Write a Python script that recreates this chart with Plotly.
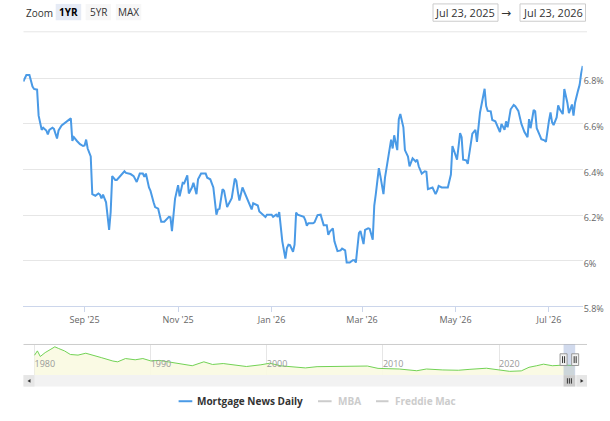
import plotly.graph_objects as go
import pandas as pd

# ---------------- data ----------------
START = "2025-07-23"
END = "2026-07-23"

# Mortgage News Daily 30yr fixed (day offset from START, rate %)
mnd_day = [0, 2, 4, 6, 7, 9, 10, 12, 13, 15, 16, 17, 19, 20, 22, 23, 25, 27, 29, 31,
           32, 33, 35, 37, 39, 40, 41, 42, 44, 45, 47, 49, 50, 51, 52, 54, 56, 57, 58, 60,
           61, 63, 64, 66, 67, 70, 72, 74, 76, 78, 79, 80, 82, 83, 85, 86, 88, 90, 92, 95,
           96, 97, 99, 101, 102, 104, 105, 107, 108, 110, 111, 113, 114, 116, 119, 120, 122, 124, 126, 127,
           128, 130, 131, 133, 134, 136, 138, 139, 140, 141, 143, 145, 146, 149, 150, 152, 153, 154, 156, 158,
           159, 162, 163, 165, 166, 167, 169, 170, 171, 172, 173, 174, 176, 177, 178, 179, 181, 183, 184, 185,
           186, 189, 190, 192, 194, 195, 196, 198, 199, 200, 202, 203, 205, 207, 208, 210, 211, 213, 215, 216,
           217, 219, 220, 222, 223, 225, 226, 228, 229, 230, 232, 233, 235, 236, 238, 240, 241, 242, 244, 245,
           246, 248, 249, 251, 252, 254, 256, 257, 258, 260, 262, 263, 264, 266, 267, 269, 270, 271, 273, 277,
           279, 280, 282, 283, 285, 286, 287, 289, 290, 291, 293, 295, 296, 298, 299, 301, 302, 303, 305, 306,
           308, 309, 311, 312, 314, 315, 316, 318, 320, 321, 323, 325, 326, 327, 329, 330, 331, 333, 334, 335,
           337, 338, 340, 341, 343, 344, 345, 346, 348, 349, 350, 352, 353, 355, 356, 358, 359, 360, 362, 363,
           364, 365]
mnd_rate = [6.786, 6.814, 6.814, 6.764, 6.753, 6.750, 6.636, 6.574, 6.583, 6.571, 6.554, 6.574, 6.583, 6.578, 6.536, 6.571, 6.593, 6.604, 6.617, 6.624,
            6.525, 6.542, 6.525, 6.511, 6.503, 6.505, 6.531, 6.492, 6.457, 6.292, 6.285, 6.295, 6.290, 6.273, 6.290, 6.256, 6.135, 6.213, 6.371, 6.354,
            6.354, 6.371, 6.375, 6.392, 6.385, 6.380, 6.371, 6.345, 6.382, 6.382, 6.368, 6.382, 6.321, 6.306, 6.256, 6.235, 6.228, 6.171, 6.171, 6.192,
            6.190, 6.130, 6.271, 6.331, 6.282, 6.342, 6.340, 6.374, 6.295, 6.321, 6.342, 6.292, 6.357, 6.382, 6.382, 6.364, 6.357, 6.321, 6.202, 6.225,
            6.228, 6.314, 6.307, 6.235, 6.249, 6.274, 6.360, 6.350, 6.302, 6.264, 6.321, 6.288, 6.273, 6.225, 6.252, 6.244, 6.242, 6.216, 6.202, 6.192,
            6.202, 6.202, 6.192, 6.202, 6.192, 6.213, 6.085, 6.042, 6.009, 6.056, 6.070, 6.068, 6.039, 6.070, 6.211, 6.202, 6.196, 6.192, 6.178, 6.153,
            6.164, 6.164, 6.168, 6.200, 6.202, 6.178, 6.156, 6.156, 6.113, 6.128, 6.142, 6.085, 6.042, 6.045, 6.053, 6.045, 5.992, 5.992, 6.002, 6.002,
            5.992, 6.121, 6.130, 6.073, 6.135, 6.142, 6.140, 6.092, 6.242, 6.292, 6.406, 6.371, 6.292, 6.364, 6.457, 6.531, 6.492, 6.550, 6.485, 6.621,
            6.643, 6.585, 6.485, 6.457, 6.414, 6.449, 6.435, 6.443, 6.414, 6.382, 6.392, 6.390, 6.314, 6.321, 6.321, 6.292, 6.306, 6.328, 6.321, 6.321,
            6.378, 6.503, 6.457, 6.443, 6.560, 6.542, 6.443, 6.440, 6.425, 6.471, 6.557, 6.574, 6.521, 6.650, 6.685, 6.754, 6.678, 6.657, 6.655, 6.617,
            6.611, 6.593, 6.564, 6.600, 6.574, 6.611, 6.585, 6.664, 6.683, 6.678, 6.657, 6.600, 6.585, 6.564, 6.542, 6.621, 6.581, 6.661, 6.655, 6.581,
            6.550, 6.533, 6.528, 6.521, 6.614, 6.650, 6.607, 6.595, 6.628, 6.681, 6.664, 6.643, 6.753, 6.693, 6.647, 6.685, 6.636, 6.693, 6.747, 6.771,
            6.821, 6.854]

# Navigator history (month, rate %)
nav_month = ["1980-01", "1980-04", "1980-07", "1980-12", "1981-06", "1981-10", "1982-02", "1982-08",
             "1983-02", "1983-10", "1984-06", "1985-02", "1985-10", "1986-10", "1987-03", "1987-11",
             "1988-09", "1989-05", "1990-01", "1990-10", "1991-12", "1992-12", "1993-08", "1994-08",
             "1995-05", "1996-04", "1997-04", "1998-04", "1999-07", "2000-04", "2001-04", "2002-05",
             "2003-05", "2004-05", "2005-09", "2006-09", "2007-09", "2008-09", "2009-08", "2010-10",
             "2011-06", "2012-12", "2013-10", "2015-03", "2016-07", "2017-07", "2018-12", "2019-12",
             "2020-12", "2021-12", "2022-08", "2023-04", "2023-11", "2024-08", "2025-08", "2026-07"]
nav_rate = [13.1, 15.9, 12.3, 14.8, 17.0, 18.5, 17.4, 15.9,
            13.6, 13.2, 14.4, 13.2, 11.6, 9.4, 8.9, 11.0,
            10.2, 11.0, 9.5, 9.8, 8.4, 7.2, 6.4, 8.9,
            7.2, 7.8, 7.0, 5.9, 7.0, 8.0, 6.3, 5.8,
            5.0, 5.8, 5.9, 6.3, 5.9, 6.2, 4.7, 4.6,
            4.3, 3.2, 4.3, 3.7, 3.5, 4.1, 4.8, 3.8,
            2.8, 3.1, 5.4, 6.4, 7.4, 6.4, 6.8, 6.5]

legend_names = ["Mortgage News Daily", "MBA", "Freddie Mac"]
range_buttons = ["1YR", "5YR", "MAX"]
date_inputs = ["Jul 23, 2025", "Jul 23, 2026"]

# ---------------- styling ----------------
W, H = 610, 421
FONT = "Open Sans, Arial, sans-serif"
BLUE = "#4a9ae6"
GREEN = "#72d255"
AX = "#ccd6eb"
GRID = "#e6e6e6"


def px(x):
    return x / W


def py(y):
    return 1 - y / H


dates = pd.Timestamp(START) + pd.to_timedelta(mnd_day, unit="D")
nav_dates = pd.to_datetime(nav_month)

fig = go.Figure()
fig.add_trace(go.Scatter(x=dates, y=mnd_rate, mode="lines", name=legend_names[0],
                         line=dict(color=BLUE, width=2), xaxis="x", yaxis="y",
                         showlegend=False))
fig.add_trace(go.Scatter(x=nav_dates, y=nav_rate, mode="lines", name="navigator",
                         line=dict(color=GREEN, width=1), fill="tozeroy",
                         fillcolor="rgba(250,250,225,0.9)", xaxis="x2", yaxis="y2",
                         showlegend=False, hoverinfo="skip"))

shapes = []
annotations = []

# range selector
shapes.append(dict(type="line", xref="paper", yref="paper", x0=px(23.5), x1=px(587),
                   y0=py(32.5), y1=py(32.5), line=dict(color=GRID, width=1)))
annotations.append(dict(text="Zoom", x=px(24), y=py(13), xref="paper", yref="paper",
                        xanchor="left", yanchor="middle", showarrow=False,
                        font=dict(family=FONT, size=10, color="#333")))
btn_x = [(55.7, 81.2), (85.6, 111.0), (115.8, 141.3)]
for i, (lab, (a, b)) in enumerate(zip(range_buttons, btn_x)):
    shapes.append(dict(type="rect", xref="paper", yref="paper", x0=px(a), x1=px(b),
                       y0=py(20.7), y1=py(4), line=dict(width=0),
                       fillcolor="#e6ebf5" if i == 0 else "#f7f7f7", layer="below"))
    annotations.append(dict(text=f"<b>{lab}</b>" if i == 0 else lab, x=px((a + b) / 2), y=py(12.5),
                            xref="paper", yref="paper", xanchor="center", yanchor="middle",
                            showarrow=False, font=dict(family=FONT, size=10,
                                                       color="#000" if i == 0 else "#333")))
box_x = [(433, 498), (520, 585.5)]
for lab, (a, b) in zip(date_inputs, box_x):
    shapes.append(dict(type="rect", xref="paper", yref="paper", x0=px(a), x1=px(b),
                       y0=py(21.7), y1=py(4), line=dict(color="#cccccc", width=1),
                       fillcolor="white"))
    annotations.append(dict(text=lab, x=px((a + b) / 2), y=py(13), xref="paper", yref="paper",
                            xanchor="center", yanchor="middle", showarrow=False,
                            font=dict(family=FONT, size=11, color="#333")))
annotations.append(dict(text="→", x=px(506), y=py(13), xref="paper", yref="paper",
                        xanchor="center", yanchor="middle", showarrow=False,
                        font=dict(family="DejaVu Sans", size=12, color="#333")))

# navigator
NAV_TOP, NAV_BOT = 352, 383.3
shapes.append(dict(type="line", xref="paper", yref="paper", x0=px(23.5), x1=px(587),
                   y0=py(NAV_TOP), y1=py(NAV_TOP), line=dict(color="#cccccc", width=1)))
shapes.append(dict(type="rect", xref="x2", yref="paper", x0=START, x1=END,
                   y0=py(NAV_BOT), y1=py(NAV_TOP), line=dict(width=0),
                   fillcolor="rgba(102,133,194,0.3)"))
for anchor in (START, END):
    shapes.append(dict(type="rect", xref="x2", yref="paper", xsizemode="pixel", xanchor=anchor,
                       x0=-3.5, x1=3.5, y0=py(373.5), y1=py(361.5),
                       line=dict(color="#999999", width=1), fillcolor="#f2f2f2"))
    for off in (-1, 1):
        shapes.append(dict(type="line", xref="x2", yref="paper", xsizemode="pixel", xanchor=anchor,
                           x0=off, x1=off, y0=py(371), y1=py(364),
                           line=dict(color="#333333", width=1)))

# scrollbar
SB_TOP, SB_BOT = 383.3, 395
shapes.append(dict(type="rect", xref="paper", yref="paper", x0=px(23.5), x1=px(587),
                   y0=py(SB_BOT), y1=py(SB_TOP), line=dict(width=0), fillcolor="#f2f2f2"))
for a, b in ((23.5, 34.5), (576.5, 587)):
    shapes.append(dict(type="rect", xref="paper", yref="paper", x0=px(a), x1=px(b),
                       y0=py(SB_BOT), y1=py(SB_TOP), line=dict(width=0), fillcolor="#e6e6e6"))
shapes.append(dict(type="path", xref="paper", yref="paper",
                   path=f"M {px(27.5)} {py(389.2)} L {px(30.5)} {py(387.2)} L {px(30.5)} {py(391.2)} Z",
                   fillcolor="#333", line=dict(width=0)))
shapes.append(dict(type="path", xref="paper", yref="paper",
                   path=f"M {px(583.5)} {py(389.2)} L {px(580.5)} {py(387.2)} L {px(580.5)} {py(391.2)} Z",
                   fillcolor="#333", line=dict(width=0)))
shapes.append(dict(type="rect", xref="x2", yref="paper", x0=START, x1=END,
                   y0=py(SB_BOT), y1=py(SB_TOP), line=dict(width=0), fillcolor="#cccccc"))
for off in (-2, 0, 2):
    shapes.append(dict(type="line", xref="x2", yref="paper", xsizemode="pixel",
                       xanchor="2026-01-22", x0=off, x1=off, y0=py(392), y1=py(386.5),
                       line=dict(color="#333333", width=1)))

# legend (manual, Highstock style)
leg = [(178.6, 192.3, 195, legend_names[0], BLUE, "#333333"),
       (318.0, 331.6, 335.6, legend_names[1], "#cccccc", "#cccccc"),
       (376.0, 388.5, 392.5, legend_names[2], "#cccccc", "#cccccc")]
for a, b, tx, name, lc, tc in leg:
    shapes.append(dict(type="line", xref="paper", yref="paper", x0=px(a), x1=px(b),
                       y0=py(410), y1=py(410), line=dict(color=lc, width=2)))
    annotations.append(dict(text=f"<b>{name}</b>", x=px(tx), y=py(410), xref="paper", yref="paper",
                            xanchor="left", yanchor="middle", showarrow=False,
                            font=dict(family=FONT, size=10, color=tc)))

fig.update_layout(
    width=W, height=H, autosize=False,
    margin=dict(l=0, r=0, t=0, b=0),
    paper_bgcolor="white", plot_bgcolor="rgba(0,0,0,0)",
    font=dict(family=FONT, color="#666666", size=9),
    showlegend=False,
    hovermode=False,
    xaxis=dict(domain=[px(23.3), px(582.7)], range=[START, END], type="date", anchor="y",
               tick0="2025-09-01", dtick="M2", tickformat="%b '%y",
               ticks="outside", ticklen=5, tickcolor=AX, tickwidth=1,
               showline=True, linecolor=AX, linewidth=1, showgrid=False, zeroline=False,
               tickfont=dict(family=FONT, size=9, color="#666666"), fixedrange=True),
    yaxis=dict(domain=[py(313), py(66)], range=[5.8, 6.86], side="right", anchor="x",
               tick0=5.8, dtick=0.2, ticksuffix="%", showgrid=True, gridcolor=GRID, gridwidth=1,
               showline=False, zeroline=False, ticks="",
               ticklabelshift=3, ticklabelstandoff=0,
               tickfont=dict(family=FONT, size=9, color="#666666"), fixedrange=True),
    xaxis2=dict(domain=[px(23.5), px(587)], range=["1979-01-20", "2027-07-30"], type="date",
                anchor="y2", tick0="1980-01-01", dtick="M120", tickformat="%Y",
                ticklabelposition="inside right", ticks="", showgrid=True, gridcolor=GRID,
                showline=False, zeroline=False,
                tickfont=dict(family=FONT, size=9, color="#999999"), fixedrange=True),
    yaxis2=dict(domain=[py(NAV_BOT), py(NAV_TOP)], range=[0.4, 20], anchor="x2",
                visible=False, fixedrange=True),
    shapes=shapes,
    annotations=annotations,
)

fig.write_html("out.html")
